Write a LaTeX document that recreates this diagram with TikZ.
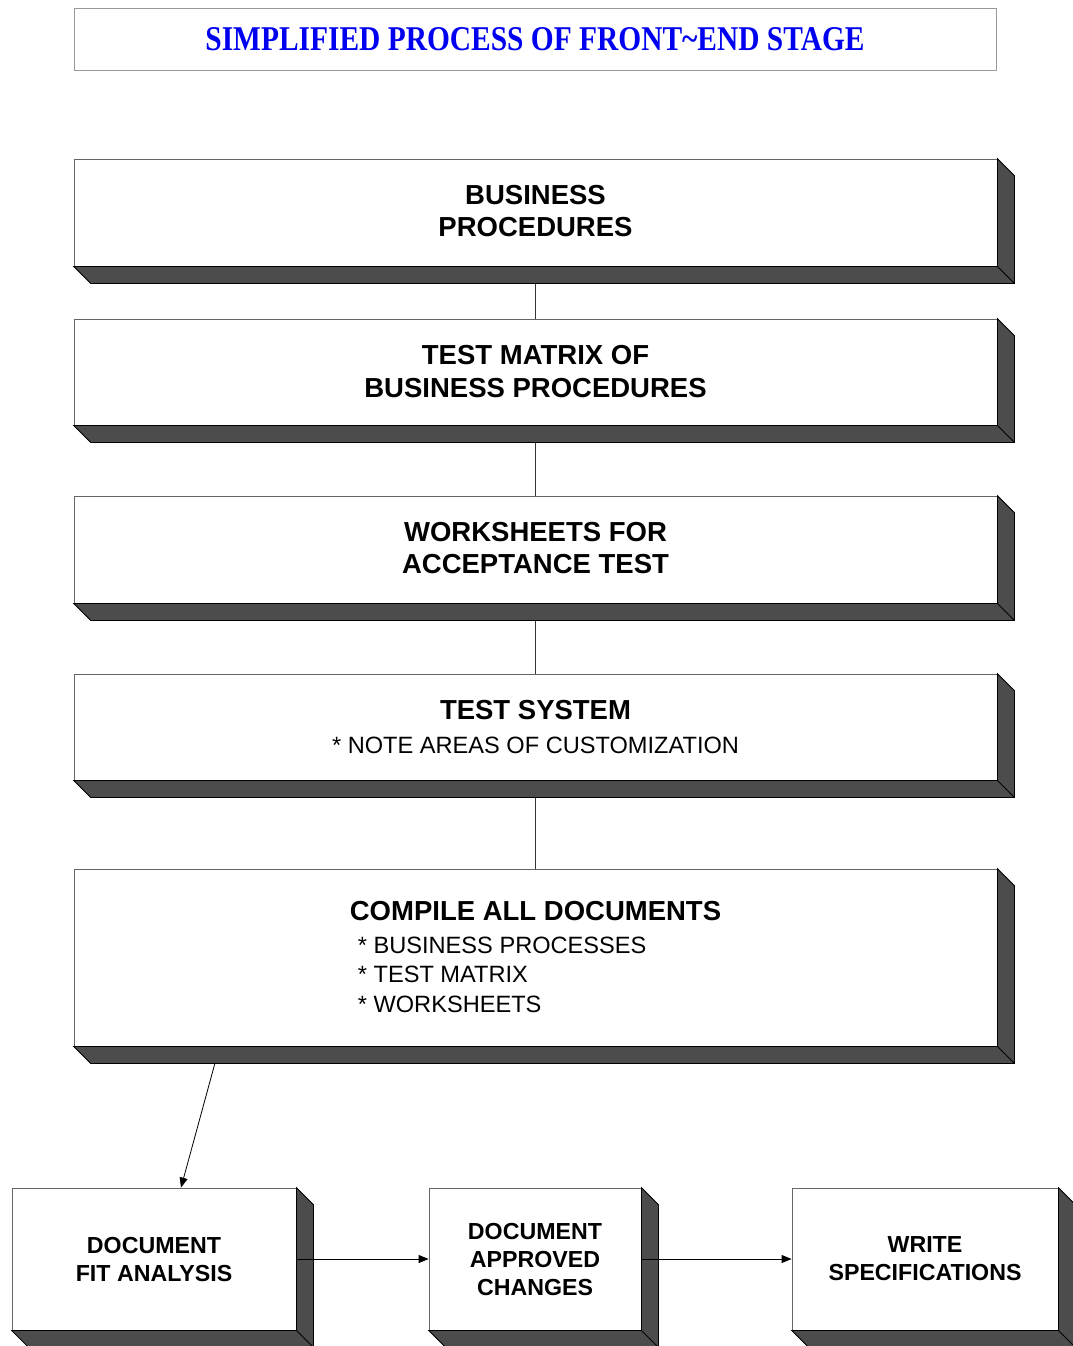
\documentclass[tikz,border=0pt]{standalone}
\usepackage{fontspec}
\setmainfont{Liberation Sans}
\newfontfamily\titlefont{Liberation Serif}
\usetikzlibrary{arrows.meta,calc}
\definecolor{shade}{gray}{0.30}
\definecolor{titleblue}{RGB}{0,0,240}

% dark bevelled depth on the right and bottom of a card
\newcommand\depthshade[1]{%
  \filldraw[fill=shade,draw=black,line width=0.8pt]
    (#1.north east) -- ([shift={(17,17)}]#1.north east)
    -- ([shift={(17,17)}]#1.south east) -- ([shift={(17,17)}]#1.south west)
    -- (#1.south west) -- (#1.south east) -- cycle;
  \draw[line width=0.8pt] (#1.south east) -- ++(17,17);
}
% move a block of lines up or down without changing the space it takes
\newcommand\nudge[2]{\raisebox{#1}[\height][\depth]{\begin{tabular}{@{}c@{}}#2\end{tabular}}}

\begin{document}
\begin{tikzpicture}[x=1pt,y=-1pt,
  card/.style={draw=black!60,line width=0.8pt,fill=white,inner sep=0pt,align=center},
  wide/.style={card,minimum width=923pt},
  small/.style={card,minimum height=142pt,
    font=\bfseries\fontsize{23.2}{28}\selectfont},
  big/.style={font=\bfseries\fontsize{27.5}{33}\selectfont},
  conn/.style={draw=black!80,line width=0.8pt},
  arr/.style={draw=black,line width=0.8pt,-{Triangle[length=10pt,width=8pt]}}
]
\useasboundingbox (0,0) rectangle (1072,1346);

% title banner
\node[draw=black!40,line width=0.8pt,minimum width=922pt,minimum height=62pt,inner sep=0pt]
  (title) at (535,39)
  {\color{titleblue}\resizebox{659pt}{23pt}{\titlefont\bfseries SIMPLIFIED PROCESS OF FRONT\textasciitilde END STAGE}};

% main column of steps
\node[wide,big,minimum height=107pt] (b1) at (535.5,212.5)
  {\nudge{-1.5pt}{BUSINESS\\[-0.3pt]PROCEDURES}};
\node[wide,big,minimum height=106pt] (b2) at (535.5,372)
  {\nudge{-2.5pt}{TEST MATRIX OF\\[-0.3pt]BUSINESS PROCEDURES}};
\node[wide,big,minimum height=107pt] (b3) at (535.5,549.5)
  {\nudge{-1.5pt}{WORKSHEETS FOR\\[-0.3pt]ACCEPTANCE TEST}};
\node[wide,minimum height=106pt,font=\fontsize{23.6}{28}\selectfont] (b4) at (535.5,727)
  {{\bfseries\fontsize{27.5}{33}\selectfont TEST SYSTEM}\\[6pt]* NOTE AREAS OF CUSTOMIZATION};
\node[wide,minimum height=177pt,font=\fontsize{23.6}{29.5}\selectfont] (b5) at (535.5,957.5)
  {\raisebox{-3pt}[\height][\depth]{\begin{tabular}{@{}l@{}}{\bfseries\fontsize{27.5}{33}\selectfont COMPILE ALL DOCUMENTS}\\[3pt]
   \hspace{8pt}* BUSINESS PROCESSES\\
   \hspace{8pt}* TEST MATRIX\\
   \hspace{8pt}* WORKSHEETS\end{tabular}}};

% bottom row
\node[small,minimum width=284pt] (fa) at (154,1259) {DOCUMENT\\FIT ANALYSIS};
\node[small,minimum width=212pt] (ac) at (535,1259) {DOCUMENT\\APPROVED\\CHANGES};
\node[small,minimum width=266pt] (ws) at (925,1259) {WRITE\\SPECIFICATIONS};

% links down the column
\draw[conn] (b1) -- (b2);
\draw[conn] (b2) -- (b3);
\draw[conn] (b3) -- (b4);
\draw[conn] (b4) -- (b5);

\foreach \n in {b1,b2,b3,b4,b5,fa,ac,ws}{\depthshade{\n}}

% arrows into the bottom row
\coordinate (b5out) at (215,1063);
\coordinate (faIn) at ([xshift=27pt]fa.north);
\draw[arr] (b5out) -- (faIn);
\draw[arr] (fa.east) -- (ac.west);
\draw[arr] (ac.east) -- (ws.west);
\end{tikzpicture}
\end{document}
